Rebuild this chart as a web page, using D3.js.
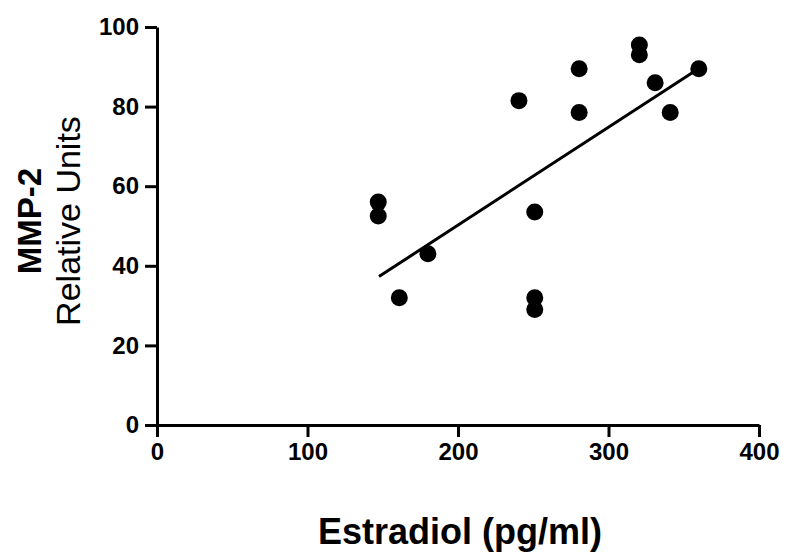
<!DOCTYPE html>
<html>
<head>
<meta charset="utf-8">
<script src="https://cdn.jsdelivr.net/npm/d3@7"></script>
<style>
  html, body { margin: 0; padding: 0; background: #fff; }
  svg { display: block; }
</style>
</head>
<body>
<svg id="chart" width="788" height="552"></svg>
<script>
// Data
const estradiol = [147, 147, 161, 180, 240.5, 251, 251, 251, 280.5, 280.5, 320.5, 320.5, 331, 341, 360];
const mmp2      = [56, 52.5, 32, 43, 81.5, 53.5, 32, 29, 89.5, 78.5, 95.5, 93, 86, 78.5, 89.5];
const fitX = [147.5, 360];
const fitY = [37.3, 89.6];
const xTicks = [0, 100, 200, 300, 400];
const yTicks = [0, 20, 40, 60, 80, 100];
const xTitle = "Estradiol (pg/ml)";
const yTitle1 = "MMP-2";
const yTitle2 = "Relative Units";

const svg = d3.select("#chart");
const FONT = "'Liberation Sans', Arial, Helvetica, sans-serif";

const x = d3.scaleLinear().domain([0, 400]).range([157, 759]);
const y = d3.scaleLinear().domain([0, 100]).range([425, 27]);

// Axes
const xAxis = d3.axisBottom(x).tickValues(xTicks).tickSize(12).tickSizeOuter(0).tickPadding(6);
const yAxis = d3.axisLeft(y).tickValues(yTicks).tickSize(12).tickSizeOuter(0).tickPadding(6);

const gx = svg.append("g").attr("transform", `translate(0,${y(0)})`).call(xAxis);
const gy = svg.append("g").attr("transform", `translate(${x(0)},0)`).call(yAxis);

[gx, gy].forEach(g => {
  g.select(".domain").attr("stroke", "#000").attr("stroke-width", 3);
  g.selectAll(".tick line").attr("stroke", "#000").attr("stroke-width", 3);
  g.selectAll(".tick text")
    .attr("fill", "#000")
    .style("font-family", FONT)
    .style("font-size", "24px")
    .style("font-weight", "bold");
});

// Regression line
const line = d3.line().x(d => x(d[0])).y(d => y(d[1]));
svg.append("path")
  .datum(fitX.map((v, i) => [v, fitY[i]]))
  .attr("d", line)
  .attr("fill", "none")
  .attr("stroke", "#000")
  .attr("stroke-width", 3);

// Points
svg.append("g").selectAll("circle")
  .data(estradiol.map((v, i) => [v, mmp2[i]]))
  .join("circle")
  .attr("cx", d => x(d[0]))
  .attr("cy", d => y(d[1]))
  .attr("r", 8.5)
  .attr("fill", "#000");

// Axis titles
svg.append("text")
  .attr("x", (x(0) + x(400)) / 2 + 2)
  .attr("y", 544)
  .attr("text-anchor", "middle")
  .style("font-family", FONT)
  .style("font-size", "36px")
  .style("font-weight", "bold")
  .attr("fill", "#000")
  .text(xTitle);

const cy = (y(0) + y(100)) / 2 - 5;
svg.append("text")
  .attr("transform", `translate(41,${cy}) rotate(-90)`)
  .attr("text-anchor", "middle")
  .style("font-family", FONT)
  .style("font-size", "33px")
  .style("font-weight", "bold")
  .attr("fill", "#000")
  .text(yTitle1);

svg.append("text")
  .attr("transform", `translate(80,${cy}) rotate(-90)`)
  .attr("text-anchor", "middle")
  .style("font-family", FONT)
  .style("font-size", "34px")
  .attr("fill", "#000")
  .text(yTitle2);
</script>
</body>
</html>
